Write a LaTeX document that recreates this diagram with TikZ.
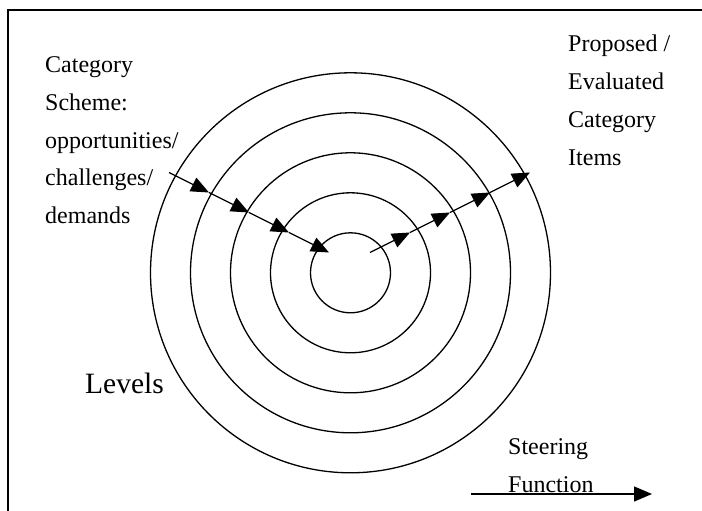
\documentclass[tikz,border=0pt]{standalone}
\usepackage{fontspec}
\setmainfont{Liberation Serif}
\usetikzlibrary{arrows.meta}
\tikzset{
  ring/.style={draw=black, line width=1.3pt},
  flow/.style={draw=black, line width=1.3pt, -{Triangle[length=18pt,width=15pt]}},
  txt/.style={anchor=base west, inner sep=0pt, font=\fontsize{24}{28}\selectfont},
  bigtxt/.style={anchor=base west, inner sep=0pt, font=\fontsize{29.5}{34}\selectfont},
}
\begin{document}
\begin{tikzpicture}[x=1pt, y=-1pt]
  \useasboundingbox (0,0) rectangle (702,511);
  % frame (left and top edges)
  \draw[line width=1.3pt] (8,511) -- (8,10) -- (702,10);

  % concentric level rings
  \coordinate (c) at (350.5,272.8);
  \foreach \r in {40,80,120,160,200}
    \path[ring] (c) circle[radius=\r];

  % inward flow: category scheme towards the core
  \coordinate (l0) at (169,172.5);
  \coordinate (l1) at (209,192.5);
  \coordinate (l2) at (249,212.5);
  \coordinate (l3) at (289,232.5);
  \coordinate (l4) at (329,252.5);
  \draw[flow] (l0) -- (l1);
  \draw[flow] (l1) -- (l2);
  \draw[flow] (l2) -- (l3);
  \draw[flow] (l3) -- (l4);

  % outward flow: proposed / evaluated items
  \coordinate (r0) at (370,252.5);
  \coordinate (r1) at (410,232.5);
  \coordinate (r2) at (450,212.5);
  \coordinate (r3) at (490,192.5);
  \coordinate (r4) at (530,172.5);
  \draw[flow] (r0) -- (r1);
  \draw[flow] (r1) -- (r2);
  \draw[flow] (r2) -- (r3);
  \draw[flow] (r3) -- (r4);

  % steering function arrow
  \coordinate (s0) at (471,494);
  \coordinate (s1) at (652,494);
  \draw[flow] (s0) -- (s1);

  % labels
  \node[txt] (cs1) at (45,73)    {Category};
  \node[txt] (cs2) at (45,110.5) {Scheme:};
  \node[txt] (cs3) at (45,148)   {opportunities/};
  \node[txt] (cs4) at (45,185.5) {challenges/};
  \node[txt] (cs5) at (45,223)   {demands};

  \node[txt] (pe1) at (568,52)    {Proposed /};
  \node[txt] (pe2) at (568,90)    {Evaluated};
  \node[txt] (pe3) at (568,127.5) {Category};
  \node[txt] (pe4) at (568,165)   {Items};

  \node[bigtxt] (lv) at (85,393) {Levels};

  \node[txt] (sf1) at (508,454) {Steering};
  \node[txt] (sf2) at (508,492) {Function};
\end{tikzpicture}
\end{document}
